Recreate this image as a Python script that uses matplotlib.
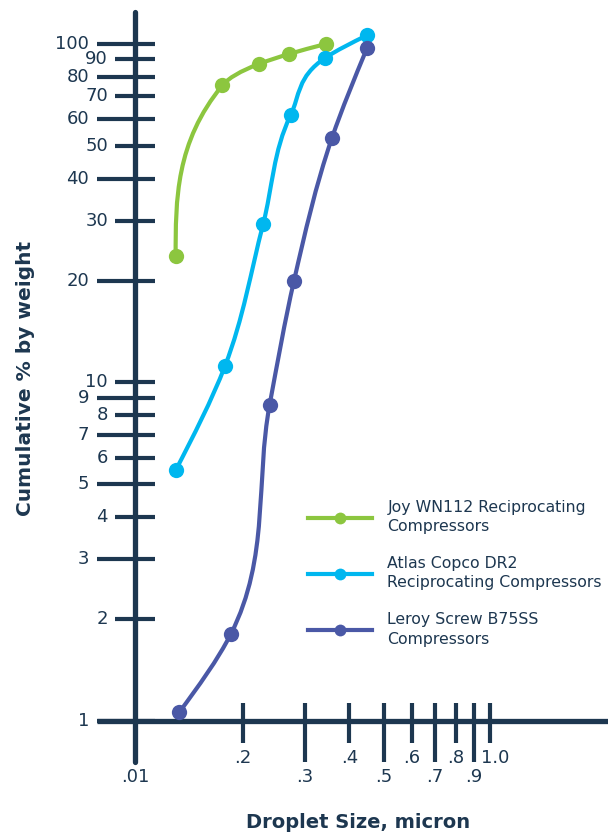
import numpy as np
import matplotlib
matplotlib.use("Agg")
import matplotlib.pyplot as plt
from matplotlib.path import Path
from matplotlib.patches import PathPatch
from matplotlib.lines import Line2D

# ---------------- data ----------------
series_names = ["Joy WN112 Reciprocating\nCompressors",
                "Atlas Copco DR2\nReciprocating Compressors",
                "Leroy Screw B75SS\nCompressors"]
joy_x = [0.129, 0.175, 0.222, 0.270, 0.343]
joy_y = [23.6, 75.5, 87.3, 93.4, 100.0]
atlas_x = [0.129, 0.178, 0.228, 0.273, 0.342, 0.448]
atlas_y = [5.5, 11.2, 29.3, 61.7, 91.0, 106.0]
leroy_x = [0.132, 0.185, 0.238, 0.279, 0.357, 0.449]
leroy_y = [1.06, 1.81, 8.6, 20.0, 52.7, 97.3]

y_long_ticks = [1, 3, 5, 7, 9, 20, 40, 60, 80, 100]
y_short_ticks = [2, 4, 6, 8, 10, 30, 50, 70, 90]
x_short_ticks = [0.2, 0.4, 0.6, 0.8, 1.0]
x_short_labels = [".2", ".4", ".6", ".8", "1.0"]
x_long_ticks = [0.3, 0.5, 0.7, 0.9]
x_long_labels = [".3", ".5", ".7", ".9"]
x_origin_label = ".01"

x_title = "Droplet Size, micron"
y_title = "Cumulative % by weight"

colors = ["#8cc63f", "#00b7ef", "#4a58a6"]
navy = "#1d3750"

# ---------------- figure ----------------
W, H = 608, 835
fig = plt.figure(figsize=(W / 100, H / 100), dpi=100)
ax_l, ax_r, ax_t, ax_b = 135, 608, 12, 721
ax = fig.add_axes([ax_l / W, 1 - ax_b / H, (ax_r - ax_l) / W, (ax_b - ax_t) / H])
ax.set_xscale("log")
ax.set_yscale("log")
ax.set_xlim(0.099, 2.157)
ax.set_ylim(1, 124.3)
for s in ax.spines.values():
    s.set_visible(False)
ax.set_xticks([])
ax.set_yticks([])
ax.minorticks_off()
ax.patch.set_alpha(0)

axw, axh = ax_r - ax_l, ax_b - ax_t
def fx(px):  # pixel x -> axes fraction
    return (px - ax_l) / axw
def fy(py):  # pixel y -> axes fraction
    return (ax_b - py) / axh

# axis lines
ax.plot([0, 0], [fy(762), 1], transform=ax.transAxes, color=navy, lw=3.8,
        solid_capstyle="round", clip_on=False, zorder=2)
ax.plot([fx(97), 1], [0, 0], transform=ax.transAxes, color=navy, lw=3.8,
        solid_capstyle="butt", clip_on=False, zorder=2)

# y ticks
ytr = ax.get_yaxis_transform()
ax.hlines(y_long_ticks, fx(97), fx(155), transform=ytr, color=navy, lw=3.0, clip_on=False, zorder=2)
ax.hlines(y_short_ticks, fx(115), fx(155), transform=ytr, color=navy, lw=3.0, clip_on=False, zorder=2)
tick_fs = 13
for v in y_long_ticks:
    ax.text(fx(89), v, str(v), transform=ytr, ha="right", va="center", fontsize=tick_fs, color=navy)
for v in y_short_ticks:
    ax.text(fx(108), v, str(v), transform=ytr, ha="right", va="center", fontsize=tick_fs, color=navy)

# x ticks
xtr = ax.get_xaxis_transform()
ax.vlines(x_short_ticks, fy(743), fy(703), transform=xtr, color=navy, lw=3.0, clip_on=False, zorder=2)
ax.vlines(x_long_ticks, fy(762), fy(703), transform=xtr, color=navy, lw=3.0, clip_on=False, zorder=2)
for v, lab in zip(x_short_ticks, x_short_labels):
    dx = 5 if lab == "1.0" else 0
    ax.annotate(lab, xy=(v, fy(758)), xycoords=xtr, xytext=(dx, 0), textcoords="offset pixels",
                ha="center", va="center", fontsize=tick_fs, color=navy, annotation_clip=False)
for v, lab in zip(x_long_ticks, x_long_labels):
    ax.annotate(lab, xy=(v, fy(777)), xycoords=xtr, ha="center", va="center",
                fontsize=tick_fs, color=navy, annotation_clip=False)
ax.annotate(x_origin_label, xy=(0, fy(777)), xycoords=ax.transAxes, ha="center", va="center",
            fontsize=tick_fs, color=navy, annotation_clip=False)

# ---------------- curves (Hermite spline parameterised by vertical position) ----------------
def smooth_path(xs, ys):
    P = ax.transData.transform(np.column_stack([xs, ys]))
    X, Y = P[:, 0], P[:, 1]
    h = np.diff(Y)
    s = np.diff(X) / h
    n = len(P)
    t = np.zeros(n)
    for i in range(1, n - 1):
        if s[i - 1] * s[i] <= 0:
            t[i] = 0.0
        else:
            p = (s[i - 1] * h[i] + s[i] * h[i - 1]) / (h[i - 1] + h[i])
            t[i] = np.sign(p) * min(abs(p), 3 * min(abs(s[i - 1]), abs(s[i])))
    t[0] = (3 * s[0] - t[1]) / 2
    t[-1] = (3 * s[-1] - t[-2]) / 2
    verts = [P[0]]
    codes = [Path.MOVETO]
    for i in range(n - 1):
        k = h[i] / 3
        verts += [(X[i] + t[i] * k, Y[i] + k), (X[i + 1] - t[i + 1] * k, Y[i + 1] - k), (X[i + 1], Y[i + 1])]
        codes += [Path.CURVE4] * 3
    verts = ax.transData.inverted().transform(np.array(verts))
    return Path(verts, codes)

for xs, ys, c in zip([joy_x, atlas_x, leroy_x], [joy_y, atlas_y, leroy_y], colors):
    ax.add_patch(PathPatch(smooth_path(xs, ys), fill=False, edgecolor=c, lw=3.0,
                           capstyle="round", clip_on=False, zorder=3))
    ax.plot(xs, ys, "o", ms=11, color=c, mec="none", clip_on=False, zorder=4)

# ---------------- legend ----------------
handles = [Line2D([], [], color=c, lw=3.0, marker="o", ms=8.5, mec="none") for c in colors]
leg = fig.legend(handles, series_names, loc="upper left", bbox_to_anchor=(308 / W, 1 - 500 / H),
                 frameon=False, fontsize=11.3, handlelength=4.05, handletextpad=1.0,
                 labelspacing=1.4, borderpad=0, borderaxespad=0, numpoints=1)
for txt in leg.get_texts():
    txt.set_color(navy)
    txt.set_linespacing(1.35)

# ---------------- titles ----------------
fig.text(26 / W, 1 - 378 / H, y_title, rotation=90, ha="center", va="center",
         fontsize=14.5, fontweight="bold", color=navy)
fig.text(358 / W, 1 - 822 / H, x_title, ha="center", va="center",
         fontsize=14, fontweight="bold", color=navy)

fig.savefig("out.png", dpi=100, facecolor="white")
